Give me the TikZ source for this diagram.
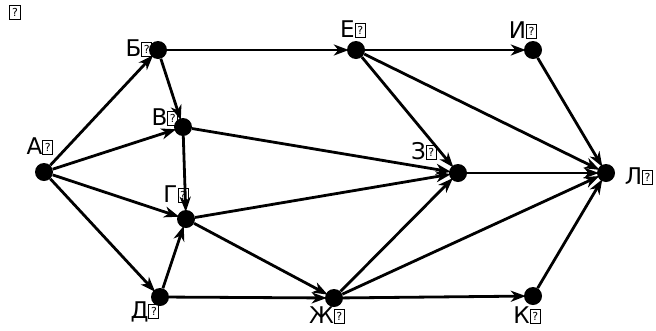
\documentclass[tikz,border=0pt]{standalone}
\usepackage{fontspec}
\setmainfont{DejaVu Sans}
\usetikzlibrary{arrows.meta}
\newcommand{\qb}{\tikz[baseline=0pt]\node[draw,line width=1pt,inner sep=0pt,font=\fontsize{11}{11}\selectfont,anchor=south,minimum height=14pt,minimum width=10pt] at (0,-0.5pt) {?};}
\begin{document}
\begin{tikzpicture}[x=1pt,y=-1pt,
  vtx/.style={circle,fill=black,inner sep=0pt,minimum size=18pt},
  lbl/.style={font=\fontsize{23}{23}\selectfont,inner sep=0pt},
  edge/.style={line width=2.8pt,-{Stealth[length=15pt,width=11pt,inset=4.5pt]},shorten >=-2pt}]
\useasboundingbox (0,0) rectangle (656,330);
\node[inner sep=0pt] (q) at (15,12) {\qb};
\node[vtx] (A) at (44,172) {};
\node[vtx] (B) at (158,50) {};
\node[vtx] (V) at (183,127) {};
\node[vtx] (G) at (186,219) {};
\node[vtx] (D) at (160,297) {};
\node[vtx] (E) at (356,50) {};
\node[vtx] (Zh) at (334,298) {};
\node[vtx] (Z) at (458,173) {};
\node[vtx] (I) at (533,50) {};
\node[vtx] (K) at (533,296) {};
\node[vtx] (L) at (606,173) {};
\node[lbl] (lA) at (40,146) {А\qb};
\node[lbl] (lB) at (139,48) {Б\qb};
\node[lbl] (lV) at (165,117) {В\qb};
\node[lbl] (lG) at (176,194) {Г\qb};
\node[lbl] (lD) at (145,312) {Д\qb};
\node[lbl] (lE) at (353,29) {Е\qb};
\node[lbl] (lZh) at (327,315) {Ж\qb};
\node[lbl] (lZ) at (424,151) {З\qb};
\node[lbl] (lI) at (523,30) {И\qb};
\node[lbl] (lK) at (527,315) {К\qb};
\node[lbl] (lL) at (639,176) {Л\qb};
\foreach \s/\t in {A/B,A/V,A/G,A/D,B/V,B/E,V/G,V/Z,G/Z,G/Zh,D/G,D/Zh,E/I,E/Z,E/L,I/L,Z/L,Zh/Z,Zh/L,Zh/K,K/L}
  \draw[edge] (\s) -- (\t);
\end{tikzpicture}
\end{document}
